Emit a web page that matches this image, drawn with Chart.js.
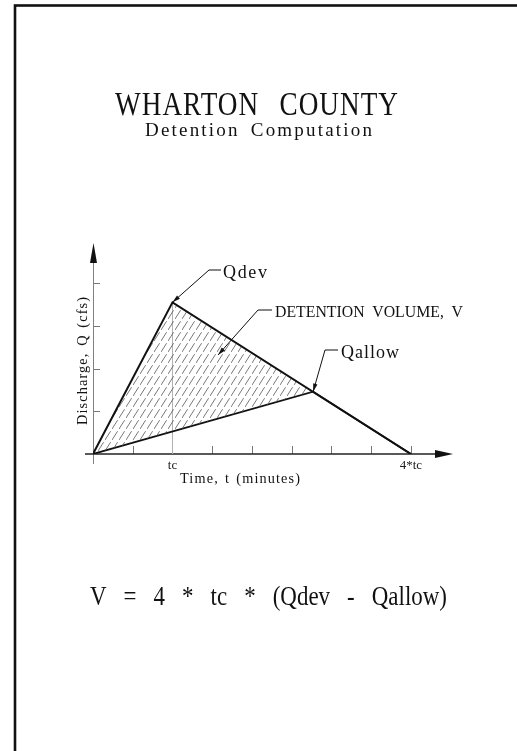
<!DOCTYPE html>
<html>
<head>
<meta charset="utf-8">
<title>Wharton County - Detention Computation</title>
<script src="https://cdn.jsdelivr.net/npm/chart.js@4.4.1/dist/chart.umd.min.js"></script>
<style>
  html, body { margin: 0; padding: 0; background: #fff; }
  canvas { display: block; }
</style>
</head>
<body>
<canvas id="detentionChart" width="517" height="751"></canvas>
<script>
// time in multiples of tc, discharge in axis tick units
const devTime = [0, 1, 4];
const devFlow = [0, 3.55, 0];
const allowTime = [0, 2.77, 4];
const allowFlow = [0, 1.46, 0];
const tcMarkTime = [1, 1];
const tcMarkFlow = [0, 3.55];

const xTickValues = [0.5, 1, 1.5, 2, 2.5, 3, 3.5, 4];
const xTickLabels = { 1: 'tc', 4: '4*tc' };
const yTickValues = [1, 2, 3, 4];

const SERIF = '"Liberation Serif", "DejaVu Serif", serif';

function toPoints(xs, ys) {
    return xs.map((x, i) => ({ x: x, y: ys[i] }));
}

function hatchPattern() {
    const w = 7, h = 11;
    const tile = document.createElement('canvas');
    tile.width = w;
    tile.height = h;
    const c = tile.getContext('2d');
    c.strokeStyle = '#555';
    c.lineWidth = 0.8;
    c.beginPath();
    c.moveTo(0, h);
    c.lineTo(w * 0.8, h * 0.2);
    c.stroke();
    return c.createPattern(tile, 'repeat');
}

// the original lettering is a CAD font: squeeze glyphs, then spread words to the measured width
function drawText(ctx, text, x, y, size, sx, ls, width, angle) {
    ctx.save();
    ctx.translate(x, y);
    if (angle) ctx.rotate(angle);
    ctx.scale(sx, 1);
    ctx.font = size + 'px ' + SERIF;
    ctx.letterSpacing = '0px';
    ctx.wordSpacing = '0px';
    const natural = ctx.measureText(text).width;
    const spaces = (text.match(/ /g) || []).length;
    let extra = width / sx - natural - ls * (text.length - 1);
    if (spaces) {
        ctx.wordSpacing = (extra / spaces) + 'px';
    } else {
        ls += extra / (text.length - 1);
    }
    ctx.letterSpacing = ls + 'px';
    ctx.textAlign = 'left';
    ctx.textBaseline = 'alphabetic';
    ctx.fillStyle = '#111';
    ctx.fillText(text, 0, 0);
    ctx.restore();
}

function arrowHead(ctx, fromX, fromY, tipX, tipY, len, half) {
    const a = Math.atan2(tipY - fromY, tipX - fromX);
    ctx.beginPath();
    ctx.moveTo(tipX, tipY);
    ctx.lineTo(tipX - len * Math.cos(a) + half * Math.sin(a), tipY - len * Math.sin(a) - half * Math.cos(a));
    ctx.lineTo(tipX - len * Math.cos(a) - half * Math.sin(a), tipY - len * Math.sin(a) + half * Math.cos(a));
    ctx.closePath();
    ctx.fill();
}

// label leaders: tip in data units, knee/end in pixels
const leaders = [
    { tip: [1, 3.55], knee: [209, 270], end: [221, 270] },
    { tip: [1.574, 2.32], knee: [258, 310], end: [272, 310] },
    { tip: [2.77, 1.46], knee: [325, 350], end: [338, 350] }
];

const drawingPlugin = {
    id: 'drawing',
    beforeDraw(chart) {
        const ctx = chart.ctx;
        ctx.save();
        ctx.fillStyle = '#fff';
        ctx.fillRect(0, 0, chart.width, chart.height);
        ctx.restore();
    },
    beforeDatasetsDraw(chart) {
        const ctx = chart.ctx;
        const xs = chart.scales.x, ys = chart.scales.y;
        const x0 = xs.getPixelForValue(0), y0 = ys.getPixelForValue(0);
        ctx.save();
        // tick marks, drawn inward
        ctx.strokeStyle = '#777';
        ctx.lineWidth = 1;
        xTickValues.forEach(v => {
            const px = Math.round(xs.getPixelForValue(v)) + 0.5;
            ctx.beginPath();
            ctx.moveTo(px, y0);
            ctx.lineTo(px, y0 - 8);
            ctx.stroke();
        });
        yTickValues.forEach(v => {
            const py = Math.round(ys.getPixelForValue(v)) + 0.5;
            ctx.beginPath();
            ctx.moveTo(x0, py);
            ctx.lineTo(x0 + 7, py);
            ctx.stroke();
        });
        // y axis
        ctx.strokeStyle = '#808080';
        ctx.beginPath();
        ctx.moveTo(x0 + 0.5, y0 + 10);
        ctx.lineTo(x0 + 0.5, ys.top + 15);
        ctx.stroke();
        ctx.fillStyle = '#111';
        arrowHead(ctx, x0 + 0.5, ys.top + 30, x0 + 0.5, ys.top, 20, 3.5);
        // x axis
        ctx.strokeStyle = '#222';
        ctx.lineWidth = 1.5;
        ctx.beginPath();
        ctx.moveTo(x0 - 8, y0);
        ctx.lineTo(xs.right - 15, y0);
        ctx.stroke();
        arrowHead(ctx, xs.right - 30, y0, xs.right, y0, 18, 4);
        ctx.restore();
    },
    afterDraw(chart) {
        const ctx = chart.ctx;
        const xs = chart.scales.x, ys = chart.scales.y;
        ctx.save();
        // sheet frame
        ctx.strokeStyle = '#111';
        ctx.lineWidth = 2.6;
        ctx.strokeRect(15, 5.5, 700, 900);

        // leaders with arrows
        ctx.strokeStyle = '#111';
        ctx.fillStyle = '#111';
        ctx.lineWidth = 1;
        leaders.forEach(l => {
            const tx = xs.getPixelForValue(l.tip[0]);
            const ty = ys.getPixelForValue(l.tip[1]);
            ctx.beginPath();
            ctx.moveTo(l.end[0], l.end[1]);
            ctx.lineTo(l.knee[0], l.knee[1]);
            ctx.lineTo(tx, ty);
            ctx.stroke();
            arrowHead(ctx, l.knee[0], l.knee[1], tx, ty, 8, 2.2);
        });
        ctx.restore();

        drawText(ctx, 'WHARTON COUNTY', 115, 115, 34, 0.8, 1.3, 283);
        drawText(ctx, 'Detention Computation', 145, 136, 19, 1, 2.2, 227);
        drawText(ctx, 'Qdev', 223, 278, 18, 1, 0, 44);
        drawText(ctx, 'DETENTION VOLUME, V', 275, 317, 17, 0.93, 0, 188);
        drawText(ctx, 'Qallow', 341, 358, 18, 1, 0, 58);
        drawText(ctx, 'Time, t (minutes)', 180, 483, 15, 0.95, 1.2, 120);
        drawText(ctx, 'Discharge, Q (cfs)', 87, 425, 15, 0.95, 1.2, 128, -Math.PI / 2);
        drawText(ctx, 'V = 4 * tc * (Qdev - Qallow)', 90, 605, 27, 0.85, 0, 357);
    }
};

const ctx = document.getElementById('detentionChart').getContext('2d');

const detentionChart = new Chart(ctx, {
    type: 'line',
    data: {
        datasets: [{
            label: 'Qdev',
            data: toPoints(devTime, devFlow),
            borderColor: '#111',
            borderWidth: 2,
            pointRadius: 0,
            tension: 0,
            fill: '+1',
            backgroundColor: hatchPattern()
        }, {
            label: 'Qallow',
            data: toPoints(allowTime, allowFlow),
            borderColor: '#111',
            borderWidth: 1.8,
            pointRadius: 0,
            tension: 0,
            fill: false
        }, {
            label: 'tc',
            data: toPoints(tcMarkTime, tcMarkFlow),
            borderColor: '#b0b0b0',
            borderWidth: 1,
            pointRadius: 0,
            fill: false
        }]
    },
    options: {
        responsive: false,
        animation: false,
        layout: { padding: { left: 93, right: 64, top: 243, bottom: 277 } },
        plugins: {
            legend: { display: false },
            tooltip: { enabled: false }
        },
        scales: {
            x: {
                type: 'linear',
                min: 0,
                max: 4.53,
                afterBuildTicks: s => { s.ticks = xTickValues.map(v => ({ value: v })); },
                afterFit: s => { s.height = 20; },
                grid: { display: false, drawTicks: false },
                border: { display: false },
                ticks: {
                    padding: 4,
                    autoSkip: false,
                    maxRotation: 0,
                    color: '#222',
                    font: { family: SERIF, size: 13 },
                    callback: v => xTickLabels[v] || ''
                }
            },
            y: {
                type: 'linear',
                display: false,
                min: 0,
                max: 4.94
            }
        }
    },
    plugins: [drawingPlugin]
});
</script>
</body>
</html>
